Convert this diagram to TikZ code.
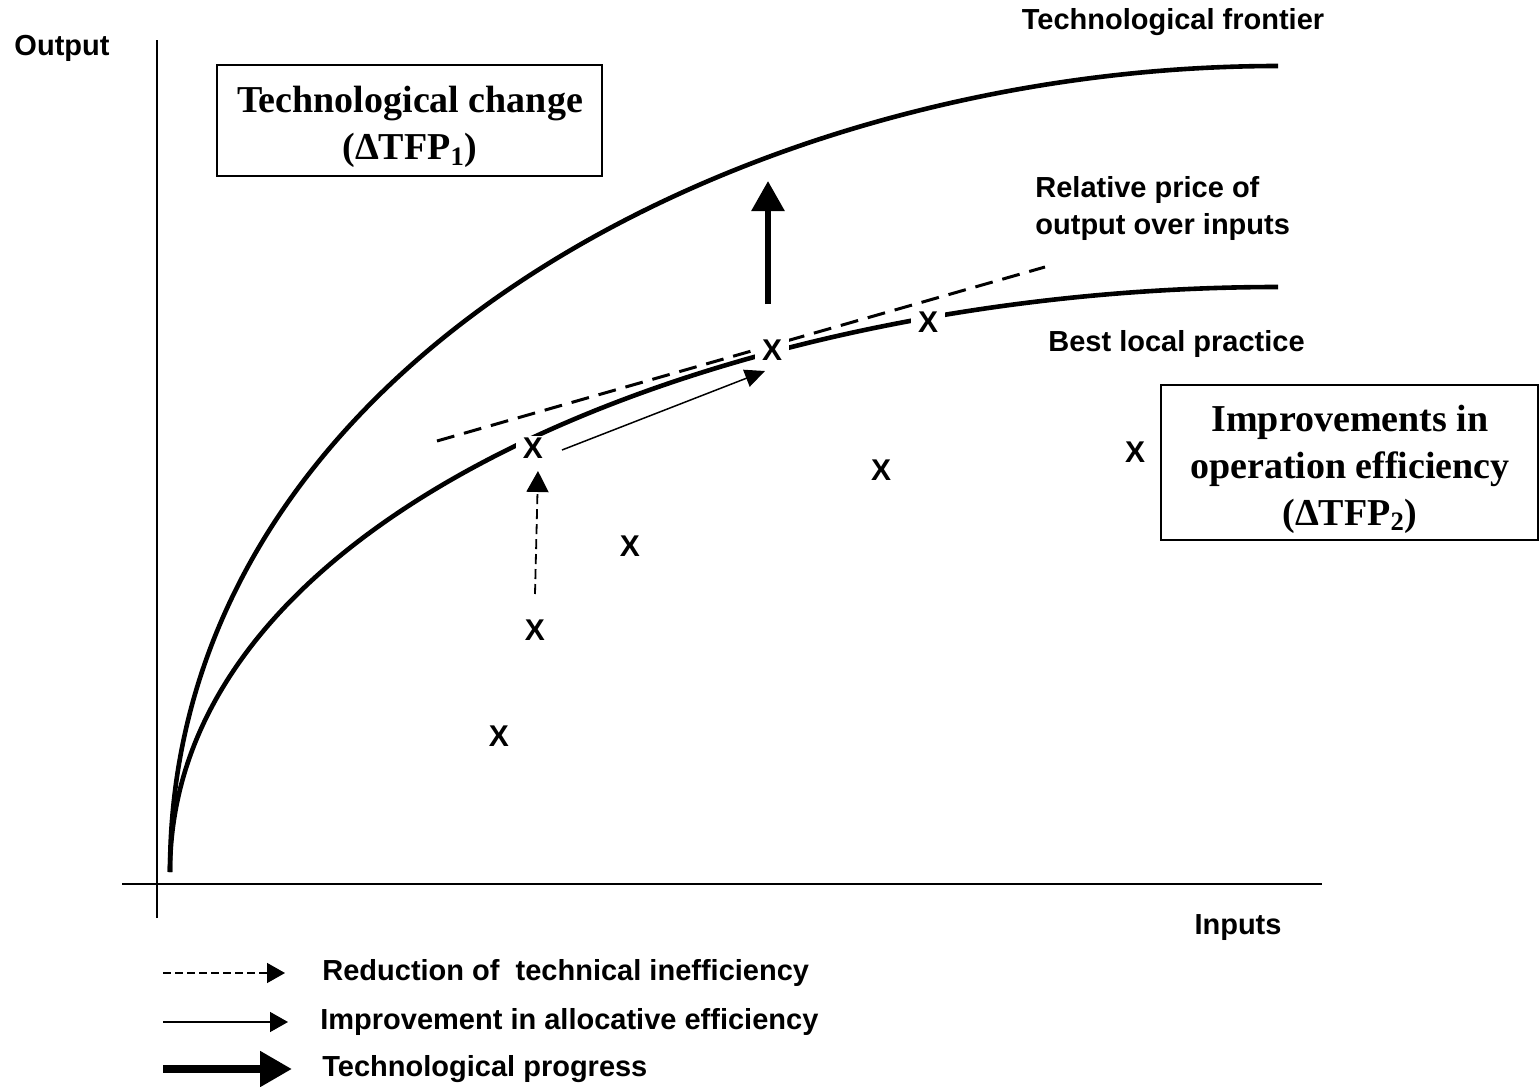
\documentclass[tikz,border=0pt]{standalone}
\usepackage{fontspec}
\setmainfont{Liberation Serif}
\setsansfont{Liberation Sans}
\usetikzlibrary{arrows.meta}
\begin{document}
\begin{tikzpicture}[x=0.5pt,y=-0.5pt,
  lbl/.style={font=\sffamily\bfseries\fontsize{14.5}{18.5}\selectfont, inner sep=0pt},
  xmark/.style={font=\sffamily\bfseries\fontsize{15}{16}\selectfont, fill=white, inner xsep=3.5pt, inner ysep=1pt},
  curve/.style={line width=2.3pt},
  axis/.style={line width=0.75pt},
  framebox/.style={draw, line width=0.75pt, inner sep=0pt},
  boxtxt/.style={font=\rmfamily\bfseries\fontsize{19}{23.5}\selectfont, align=center, inner sep=0pt},
  pricedash/.style={line width=1.5pt, dash pattern=on 9pt off 5pt},
  techarrow/.style={line width=0.9pt, dash pattern=on 5pt off 2.5pt, -{Triangle[length=10.5pt,width=11pt]}},
  allocarrow/.style={line width=0.75pt, -{Triangle[length=10pt,width=9pt]}},
  progarrow/.style={line width=3pt, -{Triangle[length=15pt,width=16pt]}},
  legdash/.style={line width=0.75pt, dash pattern=on 4pt off 2pt, -{Triangle[length=9pt,width=10pt]}},
  legthin/.style={line width=0.75pt, -{Triangle[length=9pt,width=10pt]}},
  legthick/.style={line width=4pt, -{Triangle[length=16pt,width=17pt]}}
]
\useasboundingbox (0,0) rectangle (1539,1087);

% axes
\coordinate (ytop) at (157,40);
\coordinate (ybot) at (157,918);
\coordinate (xleft) at (122,884);
\coordinate (xright) at (1322,884);
\draw[axis] (ybot) -- (ytop);
\draw[axis] (xleft) -- (xright);

% curves
\coordinate (o) at (170,872);
\coordinate (fend) at (1278,66);
\coordinate (bend) at (1278,287);
\draw[curve] (o) .. controls (170,362) and (750,66) .. (fend);
\draw[curve] (o) .. controls (170,502) and (750,287) .. (bend);

% relative price line
\coordinate (pa) at (437,441);
\coordinate (pb) at (1045,267);
\draw[pricedash] (pa) -- (pb);

% X marks
\node[xmark] (x1) at (533,448) {X};
\node[xmark] (x2) at (772,350) {X};
\node[xmark] (x3) at (928,322) {X};
\node[xmark] (x4) at (881,470) {X};
\node[xmark] (x5) at (1135,452) {X};
\node[xmark] (x6) at (630,546) {X};
\node[xmark] (x7) at (535,630) {X};
\node[xmark] (x8) at (499,736) {X};

% arrows in plot
\coordinate (ta) at (535,594);
\coordinate (tb) at (538,471);
\draw[techarrow] (ta) -- (tb);
\coordinate (aa) at (562,450);
\coordinate (ab) at (765,371);
\draw[allocarrow] (aa) -- (ab);
\coordinate (ga) at (768,304);
\coordinate (gb) at (768,181);
\draw[progarrow] (ga) -- (gb);

% labels
\node[lbl] (output) at (62,48) {Output};
\node[lbl] (inputs) at (1238,928) {Inputs};
\node[lbl] (frontier) at (1173,22) {Technological frontier};
\node[lbl, anchor=west, align=left] (price) at (1035,208.5) {Relative price of\\output over inputs};
\node[lbl, anchor=west] (best) at (1048,344) {Best local practice};

% boxes
\node[framebox, minimum width=192.5pt, minimum height=55.5pt] (box1) at (409.5,120.5) {};
\node[boxtxt] (box1txt) at (410,127) {Technological change\\(ΔTFP\textsubscript{1})};
\node[framebox, minimum width=188.5pt, minimum height=77.5pt] (box2) at (1349.5,462.5) {};
\node[boxtxt] (box2txt) at (1350,469) {Improvements in\\operation efficiency\\(ΔTFP\textsubscript{2})};

% legend
\coordinate (l1a) at (163,973);
\coordinate (l1b) at (285,973);
\coordinate (l2a) at (163,1022);
\coordinate (l2b) at (288,1022);
\coordinate (l3a) at (163,1069);
\coordinate (l3b) at (292,1069);
\draw[legdash] (l1a) -- (l1b);
\draw[legthin] (l2a) -- (l2b);
\draw[legthick] (l3a) -- (l3b);
\node[lbl, anchor=west] (leg1) at (322,973) {Reduction of\ \ technical inefficiency};
\node[lbl, anchor=west] (leg2) at (320,1022) {Improvement in allocative efficiency};
\node[lbl, anchor=west] (leg3) at (322,1069) {Technological progress};
\end{tikzpicture}
\end{document}
